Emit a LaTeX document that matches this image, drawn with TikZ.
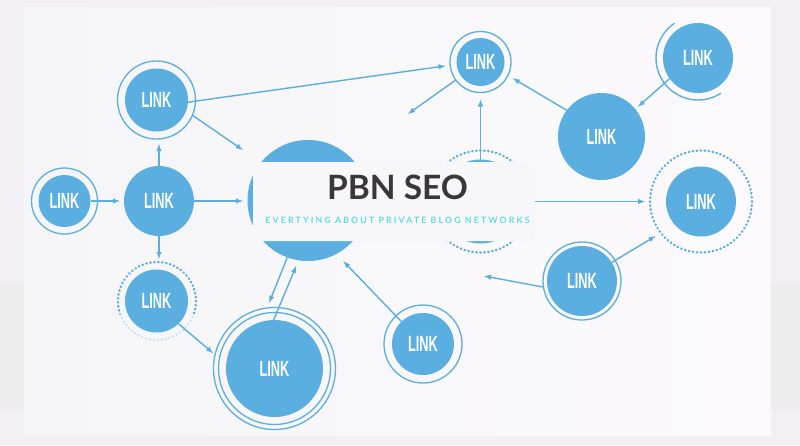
\documentclass[tikz,border=0pt]{standalone}
\usepackage{fontspec}
\setmainfont{Liberation Sans}
\newfontfamily\linkfont[BoldFeatures={FakeStretch=0.58}]{Liberation Sans}
\newfontfamily\titlefont{Lato}
\newfontfamily\tagfont[LetterSpace=24]{Lato}
\definecolor{linkblue}{HTML}{5AAEE0}
\definecolor{pagegray}{HTML}{F2F0F2}
\definecolor{sidegray}{HTML}{EEEDEE}
\definecolor{cardleft}{HTML}{F5F5F7}
\definecolor{cardright}{HTML}{FBF9FC}
\definecolor{titledark}{HTML}{3A3739}
\definecolor{tagteal}{HTML}{62DAE0}
\newcommand{\linkword}{{\linkfont\bfseries\fontsize{22}{22}\selectfont LINK}}
\tikzset{
  bluedisc/.style={circle,fill=linkblue,text=white,inner sep=0pt,outer sep=0pt,minimum size=#1},
  ringline/.style={circle,draw=linkblue,line width=1.3pt,inner sep=0pt,outer sep=0pt,minimum size=#1},
  dotline/.style={circle,draw=linkblue,line width=2.4pt,line cap=round,dash pattern=on 0.5pt off 3.5pt,inner sep=0pt,outer sep=0pt,minimum size=#1},
  linkline/.style={draw=linkblue,line width=1.4pt,-latex},
}
\begin{document}
\begin{tikzpicture}[x=1pt,y=-1pt]
  \useasboundingbox (0,0) rectangle (800,445);
  \fill[pagegray] (0,0) rectangle (800,445);
  \fill[sidegray,rounded corners=8pt] (-10,282) rectangle (40,410);
  \fill[sidegray,rounded corners=8pt] (755,282) rectangle (810,410);
  \shade[left color=cardleft,right color=cardright] (24,7) rectangle (771,435);

  \node[bluedisc=52pt] (far) at (64.5,201) {\linkword};
  \node[ringline=66pt] (farout) at (64.5,201) {};
  \node[bluedisc=70pt] (mid) at (159,201) {\linkword};
  \node[bluedisc=63pt] (upper) at (156.5,100) {\linkword};
  \node[ringline=78pt] (upperout) at (156.5,100) {};
  \node[bluedisc=63pt] (dotted) at (156.5,301) {\linkword};
  \node[circle,minimum size=78pt,inner sep=0pt,outer sep=0pt] (dottedout) at (157,301) {};
  \draw[linkblue,line width=2.4pt,line cap=round,dash pattern=on 0.5pt off 3.5pt] (dottedout.200) arc[start angle=200,delta angle=-220,radius=39pt];
  \draw[linkblue!35,line width=2.2pt,line cap=round,dash pattern=on 0.5pt off 3.5pt] (dottedout.200) arc[start angle=200,delta angle=140,radius=39pt];
  \node[bluedisc=97pt] (large) at (274.5,368.5) {\linkword\hspace{6pt}};
  \node[ringline=112pt] (largemid) at (274.5,368.5) {};
  \node[ringline=122pt] (largeout) at (274.5,368.5) {};
  \node[bluedisc=121pt] (hub) at (308,200.5) {};
  \node[bluedisc=62pt] (lower) at (423,344) {\linkword};
  \node[ringline=78pt] (lowerout) at (423,344) {};
  \node[bluedisc=48pt] (top) at (480.5,62) {\linkword};
  \node[ringline=61pt] (topout) at (480.5,62) {};
  \node[bluedisc=87pt] (side) at (601.5,136.5) {\linkword};
  \node[bluedisc=70pt] (corner) at (698,58) {\linkword};
  \draw[linkblue,line width=1.4pt] (698,58) ++(124:42pt) arc[start angle=124,delta angle=179,radius=42pt];
  \node[bluedisc=70pt] (east) at (701,201.5) {\linkword};
  \node[dotline=102pt] (eastout) at (701,201.5) {};
  \node[bluedisc=70pt] (south) at (582,281) {\linkword\hspace{4pt}};
  \node[ringline=78pt] (southout) at (582,281) {};
  \node[bluedisc=84pt] (hidden) at (480.5,201.5) {};
  \node[dotline=102pt] (hiddenout) at (480.5,201.5) {};
  \coordinate (freeleft) at (408,114);
  \coordinate (freeright) at (484,276);

  \draw[linkline,shorten >=4pt] (far.east) -- (mid.west);
  \draw[linkline,shorten >=4.5pt] (mid.east) -- (hub.west |- mid.east);
  \draw[linkline,shorten >=5pt] (mid.north) -- (mid.north |- upperout.south);
  \draw[linkline,shorten >=3pt] (mid.south) -- (mid.south |- dottedout.north);
  \draw[linkline,shorten >=22pt] (upperout.-23) -- (hub.141);
  \draw[linkline,shorten >=4.7pt] (upper.-4) -- (topout.186);
  \draw[linkline] (topout.216) -- (freeleft);
  \draw[linkline,shorten >=7pt] (hidden.north) -- (topout.south);
  \draw[linkline,shorten >=5.7pt] (side.143) -- (topout.-26);
  \draw[linkline,shorten >=3.5pt] (corner.216) -- (side.39);
  \draw[linkline,shorten >=6pt] (south.32) -- (eastout.218);
  \draw[linkline] (southout.189) -- (freeright);
  \draw[linkline,shorten >=2.5pt] (dotted.-46) -- (largeout.167);
  \draw[linkline,shorten >=5.5pt] (hub.-110) -- (largeout.97);
  \draw[linkline,shorten >=6pt] (large.91) -- (hub.-99);
  \draw[linkline,shorten >=10pt] (lower.134) -- (hub.-62);
  \draw[linkline,shorten >=5pt] (hidden.east) -- (eastout.west);

  \fill[cardleft!60!cardright,rounded corners=5pt] (253,162) rectangle (535,241);
  \node[text=titledark,font=\titlefont\bfseries\fontsize{33.5}{34}\selectfont] (title) at (397.5,187) {PBN SEO};
  \node[text=tagteal,font=\tagfont\bfseries\fontsize{8.8}{9}\selectfont] (tagline) at (397.5,220) {EVERTYING ABOUT PRIVATE BLOG NETWORKS};
\end{tikzpicture}
\end{document}
